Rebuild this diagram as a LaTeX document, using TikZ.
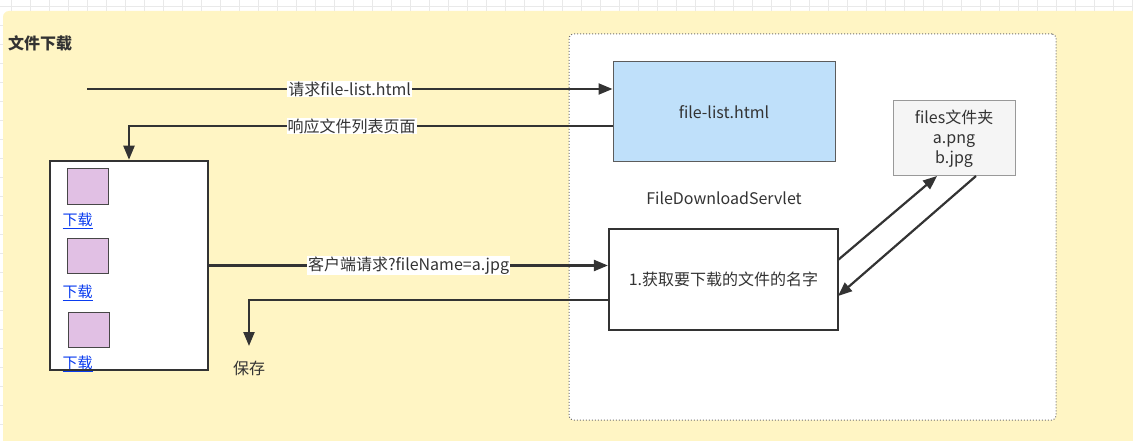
\documentclass[tikz,border=0pt]{standalone}
\usepackage{fontspec}
\setmainfont{Noto Sans CJK SC}
\usetikzlibrary{arrows.meta}
\definecolor{gridc}{HTML}{E9E9E9}
\definecolor{yel}{HTML}{FFF5C4}
\definecolor{ink}{HTML}{333333}
\definecolor{blu}{HTML}{BFE0FA}
\definecolor{pink}{HTML}{E1C0E4}
\definecolor{fgray}{HTML}{F5F5F5}
\definecolor{linkc}{HTML}{0A3CF0}
\tikzset{
  conn/.style={draw=ink, line width=2.2pt, -{Triangle[length=14pt,width=11pt]}},
  lbl/.style={fill=white, inner sep=1pt, text=ink, font=\fontsize{16}{19}\selectfont},
  thickbox/.style={draw=ink, line width=2.2pt, fill=white, inner sep=0pt},
  txt/.style={text=ink, font=\fontsize{16}{19}\selectfont, inner sep=0pt},
  sq/.style={draw=ink!90, line width=1pt, fill=pink, minimum width=41pt, minimum height=35pt, inner sep=0pt},
  dl/.style={text=linkc, font=\fontsize{15}{18}\selectfont, inner sep=0pt}
}
\begin{document}
\begin{tikzpicture}[x=1pt,y=-1pt]
\useasboundingbox (0,0) rectangle (1133,441);
\fill[white] (0,0) rectangle (1133,441);
\foreach \gx in {11,30,...,1140} \draw[gridc, line width=0.8pt] (\gx,0) -- (\gx,441);
\foreach \gy in {6,25,...,450} \draw[gridc, line width=0.8pt] (0,\gy) -- (1133,\gy);
\fill[yel, rounded corners=6pt] (3,11) rectangle (1150,460);
\node[anchor=west, text=ink, inner sep=0pt, font=\fontsize{16}{19}\selectfont\bfseries] (title) at (8,43) {文件下载};
\node[draw=ink!70, dotted, line width=1pt, fill=white, rounded corners=4pt, minimum width=487pt, minimum height=386pt, inner sep=0pt] (cont) at (812.5,227) {};
\node[draw=ink!80, line width=1pt, fill=blu, minimum width=222pt, minimum height=100pt, inner sep=0pt, txt] (filelist) at (724,112) {file-list.html};
\node[txt] (servlet) at (724,198) {FileDownloadServlet};
\node[thickbox, minimum width=229pt, minimum height=101pt, txt] (getname) at (723.5,279.5) {1.获取要下载的文件的名字};
\node[draw=black!40, line width=1pt, fill=fgray, minimum width=122pt, minimum height=75pt, inner sep=0pt, align=center, text=ink, font=\fontsize{16}{20}\selectfont] (files) at (954,138.5) {files文件夹\\a.png\\b.jpg};
\node[thickbox, line width=2.5pt, minimum width=158pt, minimum height=209pt] (client) at (129,265.5) {};
\node[sq] (p1) at (87.5,186.5) {};
\node[sq] (p2) at (87.5,255.5) {};
\node[sq] (p3) at (88.5,329.5) {};
\node[dl] (d1) at (77.5,221) {\underline{下载}};
\node[dl] (d2) at (77.5,293) {\underline{下载}};
\node[dl] (d3) at (77.5,364) {\underline{下载}};
\node[txt] (save) at (249,368) {保存};
\coordinate (start) at (87,89);
\coordinate (resp) at (613,126);
\coordinate (back) at (609,300);
\coordinate (saveend) at (249,346);
\coordinate (gout) at (838,260);
\coordinate (fin) at (937,176);
\coordinate (fout) at (976,176);
\coordinate (gin) at (838,296);
\draw[conn] (start) -- node[lbl, pos=0.5]{请求file-list.html} (start -| filelist.west);
\draw[conn] (resp) -| node[lbl, pos=0.27]{响应文件列表页面} (client.north);
\draw[conn] (client.east) -- node[lbl, pos=0.5]{客户端请求?fileName=a.jpg} (client.east -| getname.west);
\draw[conn] (back) -| (saveend);
\draw[conn] (gout) -- (fin);
\draw[conn] (fout) -- (gin);
\end{tikzpicture}
\end{document}
